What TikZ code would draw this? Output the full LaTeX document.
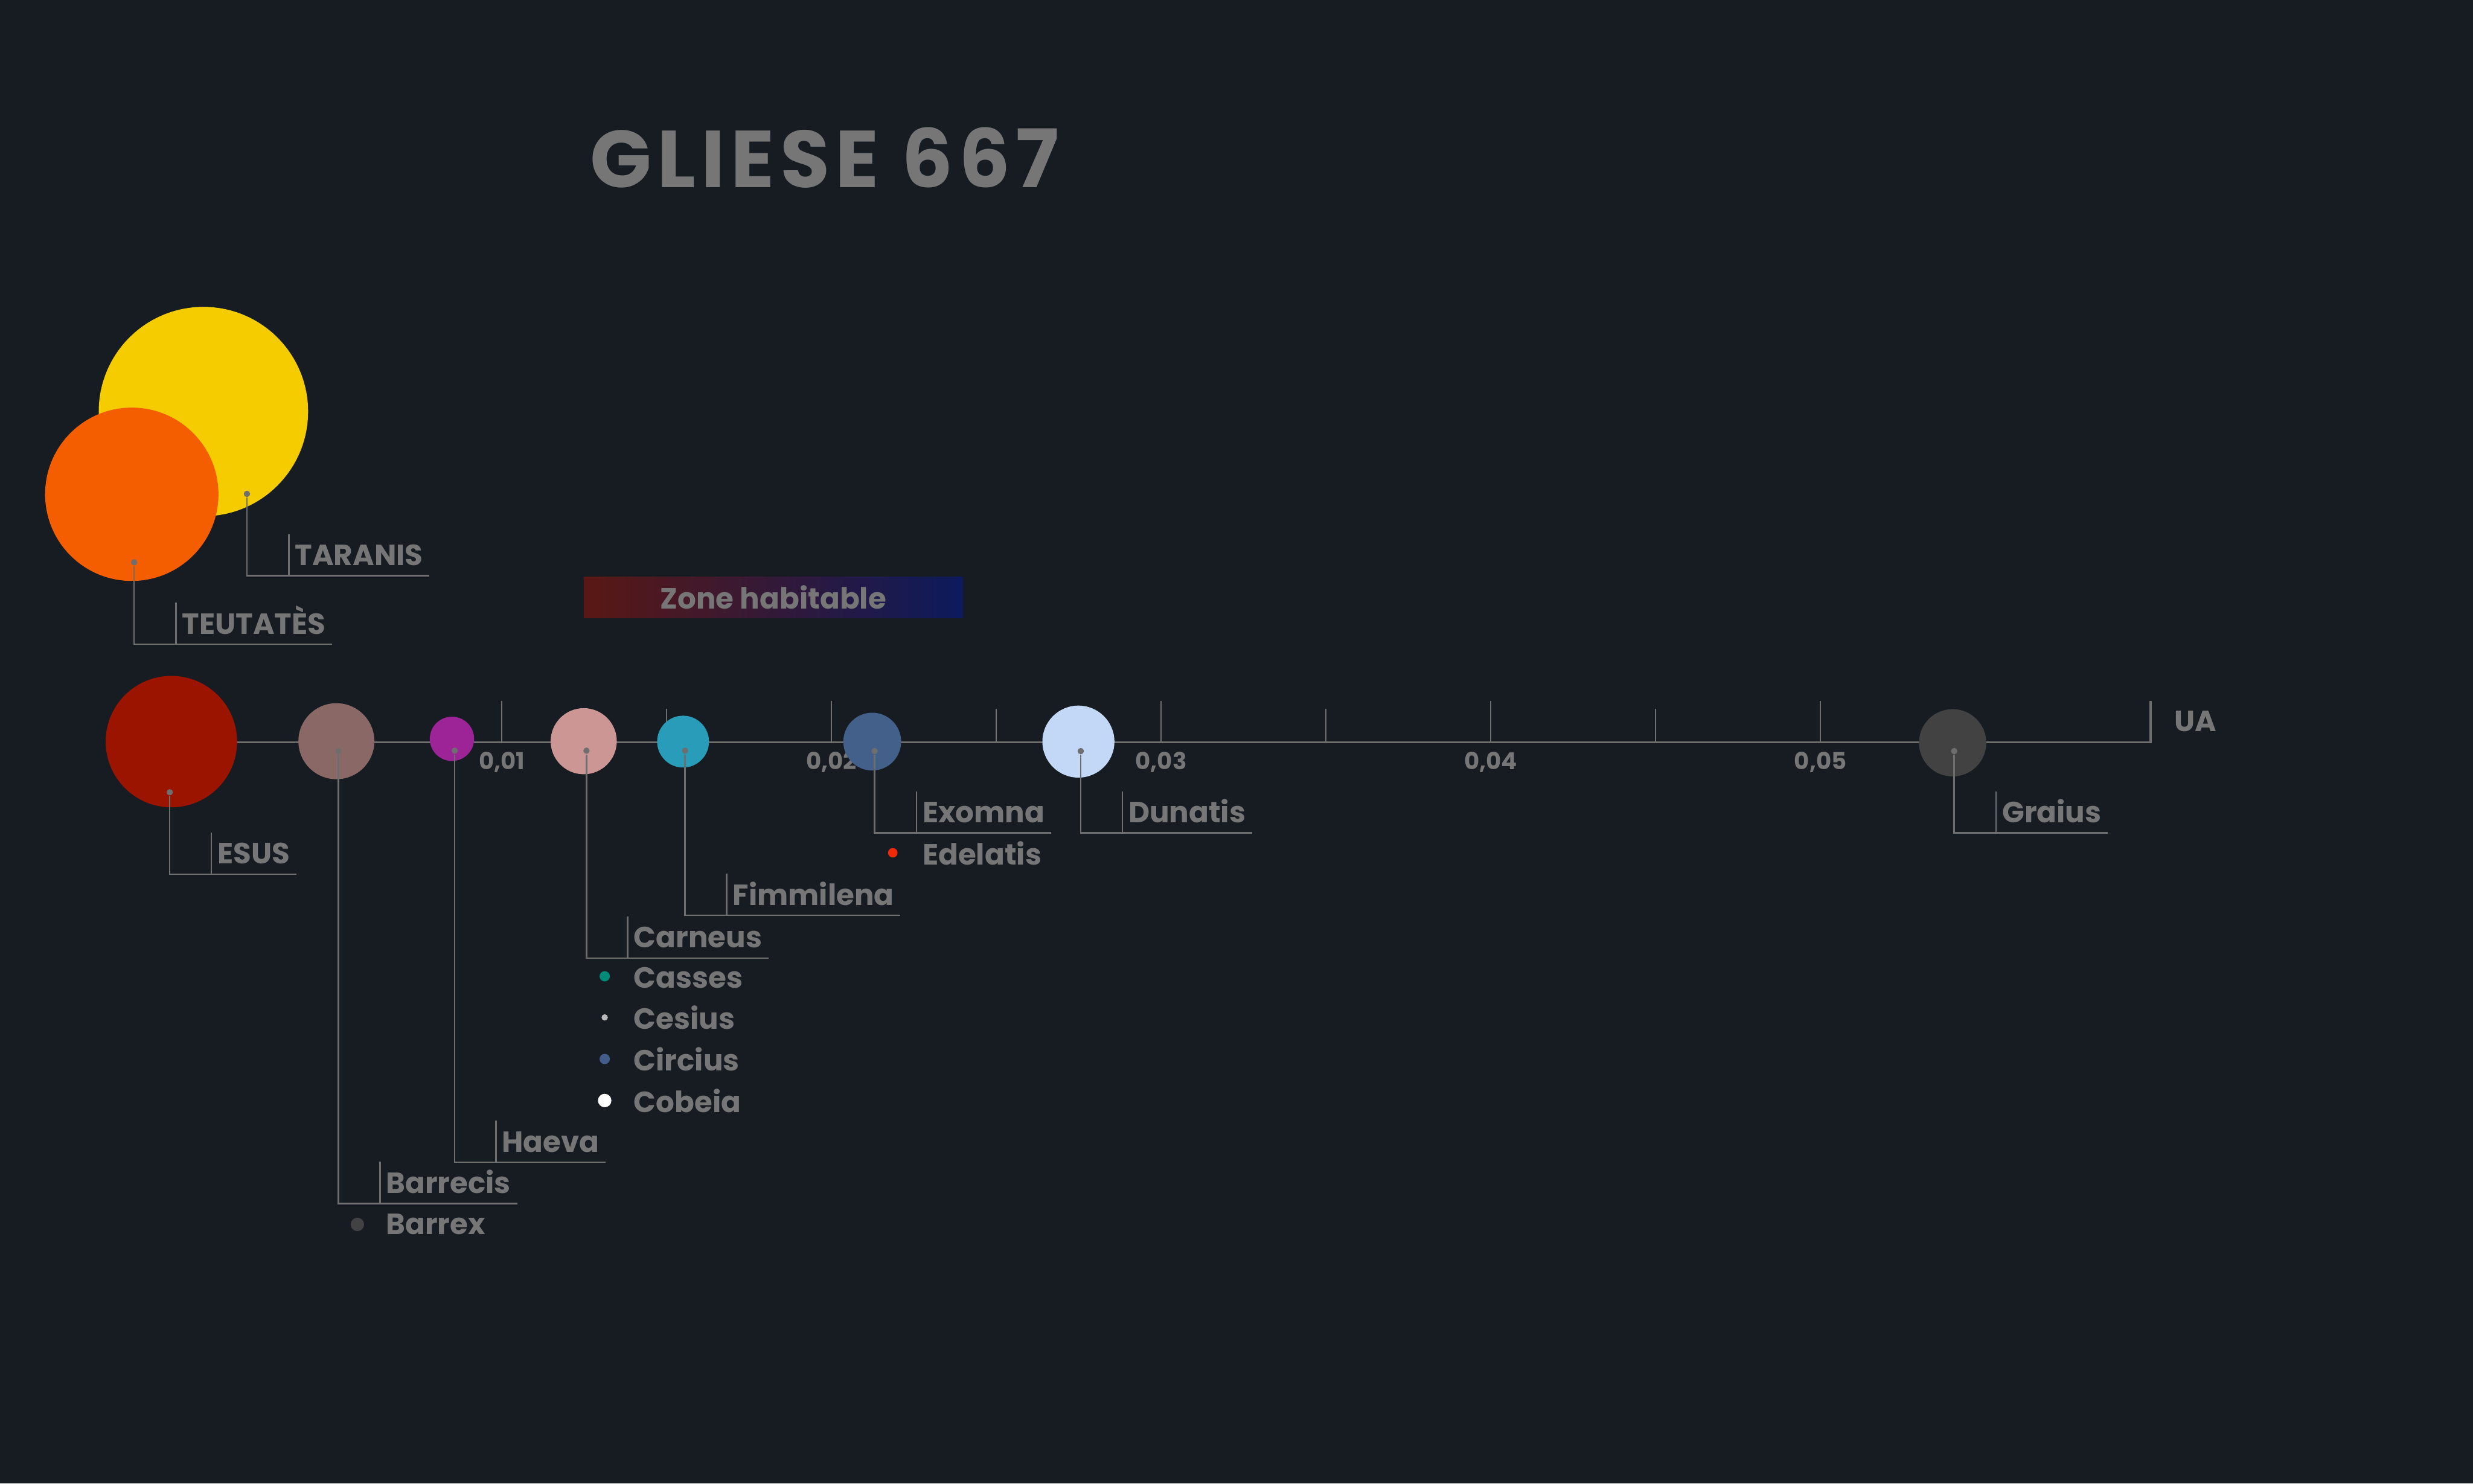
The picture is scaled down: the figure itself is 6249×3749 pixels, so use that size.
\documentclass[tikz,border=0pt]{standalone}
\usepackage{fontspec}
\setmainfont{Poppins}
\newfontfamily\titlefont{Poppins}[LetterSpace=7]
\usepackage{xcolor}
\usepackage{tikz}
\usetikzlibrary{calc}
\definecolor{bg}{RGB}{23,28,34}
\definecolor{tx}{RGB}{118,118,118}
\definecolor{ln}{RGB}{110,110,110}
\definecolor{tar}{RGB}{244,204,0}
\definecolor{teu}{RGB}{244,94,0}
\definecolor{esu}{RGB}{154,20,0}
\definecolor{bar}{RGB}{138,104,102}
\definecolor{hae}{RGB}{156,36,150}
\definecolor{car}{RGB}{204,150,148}
\definecolor{fim}{RGB}{40,156,184}
\definecolor{exo}{RGB}{66,96,138}
\definecolor{dun}{RGB}{194,216,246}
\definecolor{gra}{RGB}{66,66,66}
\definecolor{cas}{RGB}{0,138,120}
\definecolor{ces}{RGB}{187,187,187}
\definecolor{cir}{RGB}{66,92,140}
\definecolor{ede}{RGB}{240,42,8}
\definecolor{zr}{RGB}{90,24,20}
\definecolor{zb}{RGB}{12,26,92}
\newcommand{\TX}[1]{\textcolor{tx}{#1}}

\begin{document}
\begin{tikzpicture}[x=0.05mm,y=-0.05mm,
  planet/.style={circle,inner sep=0pt,minimum size=#1},
  pin/.style={circle,inner sep=0pt,minimum size=0.8mm,fill=ln},
  lab/.style={anchor=base west,inner sep=0pt,font=\bfseries\fontsize{10.5}{12}\selectfont},
  tck/.style={anchor=base,inner sep=0pt,font=\bfseries\fontsize{8.4}{9}\selectfont},
  lead/.style={draw=ln,line width=0.55pt}]
  \fill[bg] (0,0) rectangle (6249,3749);

  \node[anchor=base west,inner sep=0pt,font=\titlefont\bfseries\fontsize{29}{32}\selectfont] (title) at (1490,473) {\TX{GLIESE 667}};

  % zone habitable
  \node[left color=zr,right color=zb,minimum width=47.9mm,minimum height=5.2mm,inner sep=0pt,font=\bfseries\fontsize{10.5}{12}\selectfont] (zone) at (1954,1509) {\TX{Zone habitable}};

  % axe
  \coordinate (ax0) at (435,1876);
  \coordinate (ax1) at (5434,1876);
  \draw[lead,line width=0.8pt] (ax0) -- (ax1) -- ++(0,-104);
  \foreach \i/\t in {1/0{,}01,2/0{,}02,3/0{,}03,4/0{,}04,5/0{,}05}{
    \draw[lead,line width=0.4pt] (435+833*\i,1876) -- ++(0,-104);
    \draw[lead,line width=0.4pt] (435+833*\i-416.5,1876) -- ++(0,-85);
    \node[tck] (t\i) at (435+833*\i,1944) {\TX{\t}};
  }
  \node[lab] (ua) at (5493,1848) {\TX{UA}};

  % etoiles
  \node[planet=26.45mm,fill=tar] (taranis) at (514,1040) {};
  \node[planet=21.9mm,fill=teu] (teutates) at (333,1249) {};

  % planetes
  \node[planet=16.6mm,fill=esu] (esus) at (433,1874) {};
  \node[planet=9.6mm,fill=bar] (barrecis) at (850,1873) {};
  \node[planet=5.6mm,fill=hae] (haeva) at (1142,1867) {};
  \node[planet=8.35mm,fill=car] (carneus) at (1475,1873) {};
  \node[planet=6.55mm,fill=fim] (fimmilena) at (1726,1874) {};
  \node[planet=7.3mm,fill=exo] (exomna) at (2204,1874) {};
  \node[planet=9.1mm,fill=dun] (dunatis) at (2725,1874) {};
  \node[planet=8.5mm,fill=gra] (graius) at (4934,1877) {};

  % reperes
  \node[pin] (tard) at (624,1248) {};
  \node[pin] (teud) at (339,1421) {};
  \node[pin] (esud) at (429,2002) {};
  \node[pin] (bard) at (855,1898) {};
  \node[pin] (haed) at (1149,1897) {};
  \node[pin] (card) at (1482,1897) {};
  \node[pin] (fimd) at (1731,1897) {};
  \node[pin] (exod) at (2210,1898) {};
  \node[pin] (dund) at (2731,1898) {};
  \node[pin] (grad) at (4938,1898) {};

  % noms
  \node[lab] (tarl) at (744,1429) {\TX{TARANIS}};
  \node[lab] (teul) at (459,1602) {\TX{TEUTATÈS}};
  \node[lab] (esul) at (548,2183) {\TX{ESUS}};
  \node[lab] (barl) at (974,3015) {\TX{Barrecis}};
  \node[lab] (hael) at (1267,2911) {\TX{Haeva}};
  \node[lab] (carl) at (1600,2395) {\TX{Carneus}};
  \node[lab] (fiml) at (1850,2287) {\TX{Fimmilena}};
  \node[lab] (exol) at (2330,2079) {\TX{Exomna}};
  \node[lab] (dunl) at (2850,2079) {\TX{Dunatis}};
  \node[lab] (gral) at (5058,2079) {\TX{Graius}};

  % liens
  \foreach \d/\l in {tard/tarl,teud/teul,esud/esul,bard/barl,haed/hael,card/carl,fimd/fiml,exod/exol,dund/dunl,grad/gral}{
    \draw[lead] (\d) |- ($(\l.base east)+(15,26)$);
    \draw[lead] ($(\l.base west)+(-14,26)$) -- ++(0,-105);
  }

  % satellites sans lien
  \node[planet=1.7mm,fill=gra] (barx) at (903,3094) {};
  \node[lab] (barxl) at (974,3119) {\TX{Barrex}};
  \node[planet=1.3mm,fill=cas] (cas) at (1528,2467) {};
  \node[lab] (casl) at (1600,2497) {\TX{Casses}};
  \node[planet=0.8mm,fill=ces] (ces) at (1528,2571) {};
  \node[lab] (cesl) at (1600,2601) {\TX{Cesius}};
  \node[planet=1.3mm,fill=cir] (cir) at (1528,2676) {};
  \node[lab] (cirl) at (1600,2706) {\TX{Circius}};
  \node[planet=1.7mm,fill=white] (cob) at (1528,2781) {};
  \node[lab] (cobl) at (1600,2811) {\TX{Cobeia}};
  \node[planet=1.2mm,fill=ede] (ede) at (2256,2155) {};
  \node[lab] (edel) at (2330,2185) {\TX{Edelatis}};
\end{tikzpicture}
\end{document}
